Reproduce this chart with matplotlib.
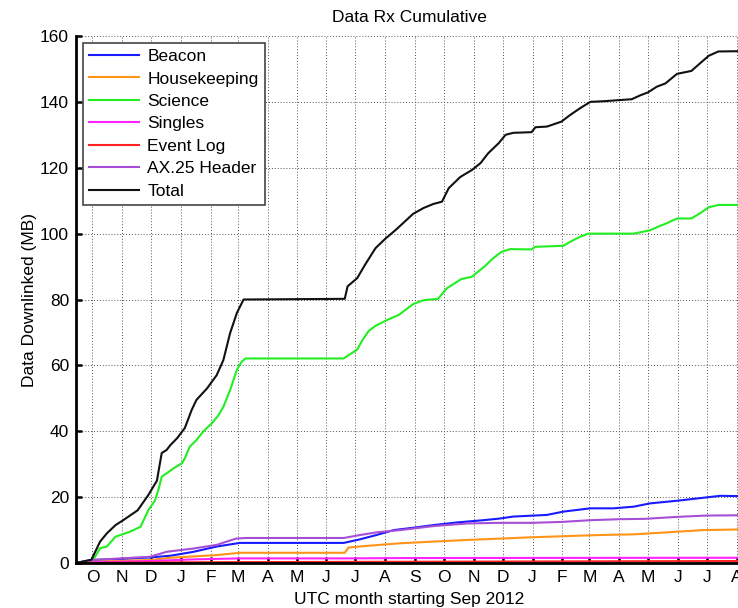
import matplotlib
matplotlib.use("Agg")
import matplotlib.pyplot as plt
import pandas as pd

plt.rcParams['font.family'] = ['Liberation Sans', 'DejaVu Sans']

# x values are days since 1 Sep 2012, y values are cumulative MB
total_days = [13, 29, 38, 45, 54, 62, 77, 88, 97, 102, 107, 111, 118, 126, 133, 138, 149, 159, 166,
              173, 180, 187, 292, 295, 305, 313, 324, 334, 346, 363, 374, 384, 393, 400, 412, 424,
              433, 441, 452, 459, 467, 486, 490, 502, 517, 526, 536, 547, 561, 590, 599, 607, 616,
              625, 637, 652, 659, 670, 680, 705]
total_mb = [0, 1.0, 6.5, 9, 11.5, 13, 16, 20.6, 25, 33.4, 34.3, 35.8, 37.9, 41, 46.4, 49.5, 53, 57, 61.6,
            69.8, 75.9, 80, 80.2, 84, 86.5, 90.5, 95.6, 98.4, 101.4, 106, 107.8, 109, 109.7, 113.8, 117.2, 119.3,
            121.4, 124.4, 127.5, 130, 130.6, 130.8, 132.3, 132.5, 134, 136, 138, 140, 140.2, 140.8, 142, 142.9, 144.6,
            145.6, 148.5, 149.4, 151.2, 154, 155.3, 155.4]

science_days = [13, 29, 38, 45, 54, 59, 69, 80, 88, 95, 99, 102, 107, 114, 123, 126, 131, 138, 145, 154,
                161, 166, 173, 180, 185, 189, 291, 296, 305, 310, 317, 324, 336, 348, 363, 374, 389, 398,
                413, 424, 437, 446, 455, 464, 486, 490, 519, 526, 536, 545, 592, 609, 619, 626, 637, 652,
                661, 670, 680, 705]
science_mb = [0, 0, 4.5, 5, 8, 8.5, 9.5, 11, 16, 19, 22.7, 26.2, 27.2, 28.7, 30.3, 31.8, 35.3, 37.3, 39.9, 42.4,
              44.9, 47.4, 52.5, 58.6, 61.1, 62.1, 62.1, 63.1, 64.8, 67.5, 70.5, 72, 73.8, 75.3, 78.6, 79.8, 80.2, 83.4,
              86.2, 86.9, 90, 92.5, 94.5, 95.3, 95.2, 96, 96.3, 97.5, 99, 100, 100, 101, 102.3, 103.1, 104.6, 104.6,
              106.2, 108, 108.7, 108.7]

beacon_days = [13, 29, 66, 90, 111, 135, 159, 183, 291, 308, 325, 343, 363, 384, 408, 436, 453, 467,
               488, 502, 519, 547, 571, 592, 609, 637, 658, 682, 705]
beacon_mb = [0, 0.9, 1.3, 1.7, 2.2, 3.4, 5, 6.1, 6.1, 7.2, 8.5, 10, 10.7, 11.5, 12.3, 13, 13.5, 14.1,
             14.4, 14.6, 15.6, 16.6, 16.6, 17.1, 18.1, 18.9, 19.6, 20.4, 20.3]

housekeeping_days = [13, 29, 90, 111, 159, 183, 292, 296, 315, 350, 384, 419, 453, 485, 526, 557, 592,
                     626, 665, 705]
housekeeping_mb = [0, 0.4, 0.9, 1.6, 2.4, 3.1, 3.1, 4.7, 5.2, 6, 6.5, 7, 7.4, 7.8, 8.2, 8.5, 8.7,
                   9.3, 10, 10.2]

singles_days = [13, 29, 90, 135, 183, 292, 350, 705]
singles_mb = [0, 0.2, 0.6, 1.1, 1.4, 1.4, 1.5, 1.6]

eventlog_days = [13, 100, 300, 705]
eventlog_mb = [0, 0.2, 0.35, 0.6]

ax25_days = [13, 29, 90, 107, 135, 159, 179, 189, 291, 308, 325, 350, 384, 419, 453, 487, 519, 547,
             577, 603, 637, 667, 705]
ax25_mb = [0, 0.9, 1.9, 3.4, 4.4, 5.5, 7.4, 7.6, 7.6, 8.5, 9.3, 10, 11.2, 12, 12.2, 12.2, 12.5, 13,
           13.3, 13.4, 14, 14.4, 14.5]

start = pd.Timestamp('2012-09-01')
month_starts = pd.date_range('2012-10-01', '2014-08-01', freq='MS')
month_days = [(m - start).days for m in month_starts]
month_letters = [m.strftime('%b')[0] for m in month_starts]

fig = plt.figure(figsize=(7.38, 6.08), dpi=100)
ax = fig.add_axes([0.103, 0.074, 0.9024, 0.8668])

ax.plot(beacon_days, beacon_mb, color='#1a1aff', lw=1.5, label='Beacon')
ax.plot(housekeeping_days, housekeeping_mb, color='#ff9419', lw=1.5, label='Housekeeping')
ax.plot(science_days, science_mb, color='#22ee22', lw=1.5, label='Science')
ax.plot(singles_days, singles_mb, color='#ff22ff', lw=1.5, label='Singles')
ax.plot(eventlog_days, eventlog_mb, color='#ff2222', lw=1.5, label='Event Log')
ax.plot(ax25_days, ax25_mb, color='#a64fd6', lw=1.5, label='AX.25 Header')
ax.plot(total_days, total_mb, color='#111111', lw=1.5, label='Total')

ax.set_xlim(13, 704.5)
ax.set_ylim(0, 160)
ax.set_xticks(month_days)
ax.set_xticklabels(month_letters)
ax.set_yticks(range(0, 161, 20))

ax.grid(True, linestyle=(0, (1, 2)), color='#555555', lw=0.7)
for side in ['top', 'right']:
    ax.spines[side].set_visible(False)
for side in ['left', 'bottom']:
    ax.spines[side].set_linewidth(2)
ax.tick_params(direction='in', length=4, width=1.8, labelsize=12.5, pad=5)

ax.set_title('Data Rx Cumulative', fontsize=12.5, pad=10)
ax.set_xlabel('UTC month starting Sep 2012', fontsize=12.5, labelpad=5)
ax.set_ylabel('Data Downlinked (MB)', fontsize=12.5, labelpad=2)

leg = ax.legend(loc='upper left', bbox_to_anchor=(0.0105, 0.987), borderaxespad=0,
                fontsize=12.5, handlelength=2.9, labelspacing=0.42, fancybox=False,
                framealpha=1, edgecolor='#444444', borderpad=0.35, handletextpad=0.45)
leg.get_frame().set_linewidth(1.2)

fig.savefig('out.png', dpi=100)
